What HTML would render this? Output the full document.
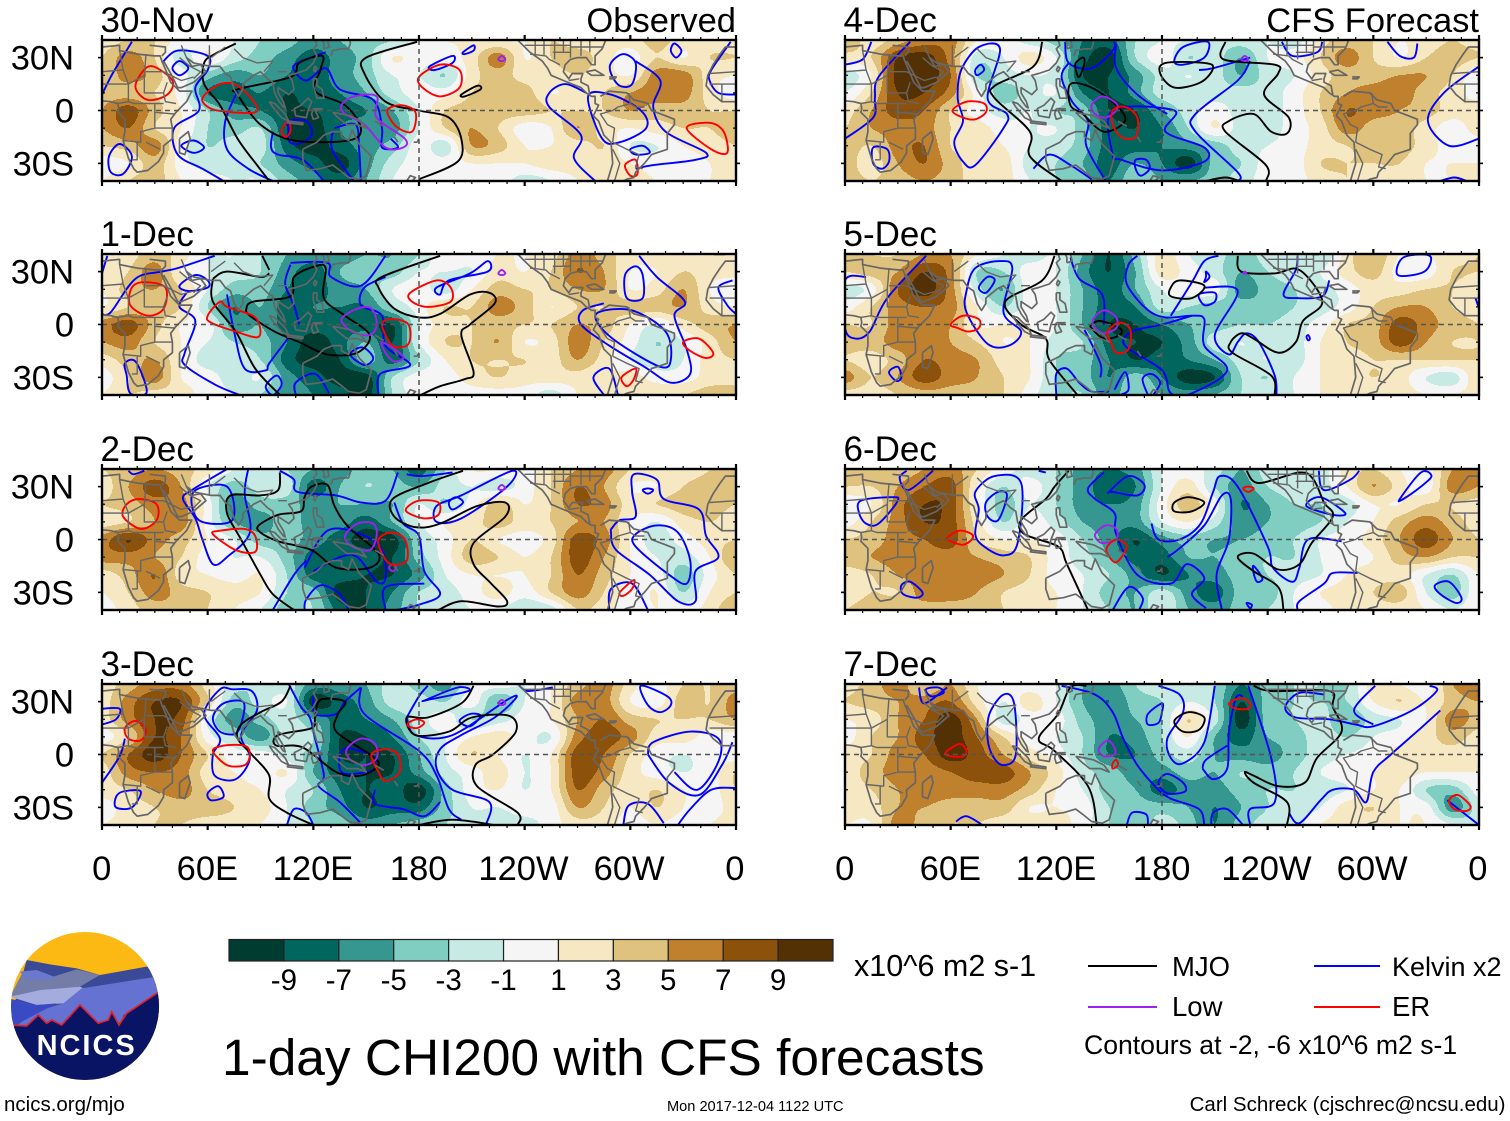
<!DOCTYPE html>
<html lang="en">
<head>
<meta charset="utf-8">
<title>1-day CHI200 with CFS forecasts</title>
<style>
html,body{margin:0;padding:0;background:#fff;}
svg{display:block;font-family:"Liberation Sans",sans-serif;}
</style>
</head>
<body>
<svg id="chart" xmlns="http://www.w3.org/2000/svg" width="1510" height="1121" viewBox="0 0 1510 1121">
<rect x="0" y="0" width="1510" height="1121" fill="#ffffff"/>
<g id="panels"></g>
<g id="colorbar"></g>
<text x="854" y="976" font-size="30.5">x10^6 m2 s-1</text>
<text x="222" y="1075" font-size="51.4">1-day CHI200 with CFS forecasts</text>
<g>
<line x1="1088" x2="1157" y1="966" y2="966" stroke="#000" stroke-width="2"/>
<text x="1172" y="976" font-size="27.5">MJO</text>
<line x1="1314" x2="1380" y1="966" y2="966" stroke="#0000ff" stroke-width="2"/>
<text x="1392" y="976" font-size="27">Kelvin x2</text>
<line x1="1088" x2="1157" y1="1007" y2="1007" stroke="#a020f0" stroke-width="2"/>
<text x="1172" y="1016" font-size="27.5">Low</text>
<line x1="1314" x2="1380" y1="1007" y2="1007" stroke="#ff0000" stroke-width="2"/>
<text x="1392" y="1016" font-size="27.5">ER</text>
<text x="1084" y="1054" font-size="26.6">Contours at -2, -6 x10^6 m2 s-1</text>
</g>
<text x="4" y="1111" font-size="20.5">ncics.org/mjo</text>
<text x="667" y="1111" font-size="14.6">Mon 2017-12-04 1122 UTC</text>
<text x="1505.5" y="1111" font-size="20.5" text-anchor="end">Carl Schreck (cjschrec@ncsu.edu)</text>
<g transform="translate(0,925) scale(0.33333)">
<clipPath id="logoClip"><circle cx="255" cy="243" r="222"/></clipPath>
<g clip-path="url(#logoClip)">
<rect x="0" y="0" width="520" height="500" fill="#fdb913"/>
<polygon points="80,105 150,118 230,130 300,150 440,125 490,130 490,320 20,320" fill="#3b4a96"/>
<polygon points="30,215 70,138 150,158 230,133 300,150 240,185 120,195" fill="#747ca8"/>
<polygon points="60,140 110,135 170,158 120,165 75,160" fill="#6b78d0"/>
<polygon points="30,215 120,195 240,185 262,195 190,235 110,240" fill="#a3acdc"/>
<polygon points="245,190 470,155 490,210 370,270 360,310 40,310 100,262 190,235" fill="#6672d2"/>
<polygon points="25,220 110,240 170,235 50,298 25,295" fill="#3a4ac4"/>
<polygon points="30,300 80,303 115,270 140,295 155,285 185,300 240,240 295,295 325,285 335,260 357,300 380,265 470,205 500,205 500,480 20,480" fill="#0a1464"/>
<polyline points="30,300 80,303 115,270 140,295 155,285 185,300 240,240 295,295 325,285 335,260 357,300 380,265 470,205 500,200" fill="none" stroke="#e0202a" stroke-width="5"/>
<text x="260" y="390" font-size="87" font-weight="bold" fill="#ffffff" text-anchor="middle" letter-spacing="6">NCICS</text>
</g>
</g>
</svg>
<script>
/* ---------- shared axis data ---------- */
const gridLons = [0,15,30,45,60,75,90,105,120,135,150,165,180,195,210,225,240,255,270,285,300,315,330,345,360];
const gridLats = [40,30,20,10,0,-10,-20,-30,-40];
const lonTicks = [0,60,120,180,240,300,360];
const lonTickLabels = ['0','60E','120E','180','120W','60W','0'];
const latTicks = [30,0,-30];
const latTickLabels = ['30N','0','30S'];
const bandEdges = [-9,-7,-5,-3,-1,1,3,5,7,9];
const bandColors = ['#003c30','#01665e','#35978f','#80cdc1','#c7eae5','#f5f5f5','#f6e8c3','#dfc27d','#bf812d','#8c510a','#543005'];
const panelDates = ['30-Nov','1-Dec','2-Dec','3-Dec','4-Dec','5-Dec','6-Dec','7-Dec'];
const loop = pts => Object.assign(pts,{closed:true});

/* ---------- filled CHI200 anomaly grids (rows 40N..40S, cols 0..360) ---------- */
const fill30Nov = [
[2,3,3,0,0,-1,-3,-4,-6,-5,-4,-3,0,1,1,1,1,3,2,2,2,4,2,2,2],
[3,6,3,-2,1,-2,-4,-6,-8,-6,-4,1,0,0,2,6,1,3,4,2,0,3,1,3,3],
[3,6,4,0,-4,-6,-5,-7,-8,-6,-4,-1,-1,-3,2,4,2,2,3,2,1,6,6,2,1],
[4,4,3,0,-7,-8,-7,-9,-8,-7,-5,-2,0,0,3,4,4,1,2,3,5,6,6,2,0],
[5,8,4,1,-3,-6,-7,-9,-9,-8,-7,-5,-1,3,4,4,4,3,3,3,5,4,4,3,3],
[5,7,3,1,-3,-4,-3,-9,-10,-7,-6,-6,-1,3,5,3,0,1,5,2,1,2,3,3,4],
[3,4,6,0,-3,-2,-2,-8,-10,-8,-6,-4,0,-2,5,4,1,1,2,3,-1,-1,1,2,3],
[0,1,4,0,-2,-2,-3,-6,-8,-10,-6,-2,0,0,1,1,1,2,2,2,1,0,0,1,2],
[1,3,4,1,0,-1,-1,-4,-6,-8,-5,-1,0,0,-1,0,-2,-1,1,2,2,1,1,1,2]];
const fill1Dec = [
[1,2,4,2,-1,-1,-3,-5,-6,-6,-5,-5,-3,1,0,1,1,2,6,4,2,2,2,3,3],
[1,3,6,1,-1,-2,-3,-6,-8,-5,-4,-4,-1,-1,-1,2,1,3,7,5,1,1,3,2,2],
[1,4,5,3,-1,-4,-4,-7,-8,-6,-5,-1,0,-2,1,4,3,3,5,5,1,2,5,1,-1],
[1,3,4,3,-3,-7,-5,-8,-7,-7,-7,-3,0,3,3,6,4,1,3,3,4,4,5,2,1],
[6,8,4,1,0,-6,-5,-8,-8,-8,-8,-9,-1,2,3,4,3,3,5,4,1,-1,2,4,5],
[5,6,3,1,-1,-3,-4,-7,-10,-8,-5,-9,-1,3,3,5,1,2,6,3,0,-3,-1,2,5],
[2,4,5,1,-2,-2,-3,-8,-10,-9,-4,-8,-3,1,3,3,3,2,5,2,-1,-2,-1,2,3],
[0,3,6,1,0,-2,-1,-6,-8,-10,-10,-3,0,0,2,3,2,2,2,1,2,0,0,2,3],
[1,3,2,2,0,-1,-3,-6,-7,-8,-10,-3,0,0,0,0,0,-2,1,2,3,3,3,4,3]];
const fill2Dec = [
[3,4,5,4,2,-1,-2,-3,-5,-6,-4,-5,-8,-3,1,1,0,3,5,6,3,2,2,3,5],
[2,5,8,5,-1,-4,-2,-2,-8,-5,-3,-4,-5,-2,-1,-2,0,3,7,5,1,1,3,4,4],
[3,4,6,6,0,-6,-4,-4,-6,-5,-5,-5,-1,-3,0,4,1,3,7,6,2,3,4,4,3],
[2,3,5,6,0,-5,-6,-4,-6,-6,-8,-5,-1,1,2,4,2,3,5,5,1,-1,2,3,2],
[6,9,6,4,1,-1,-4,-4,-6,-8,-10,-10,-3,0,3,1,0,2,8,6,1,-2,0,2,3],
[6,6,5,3,0,-1,-1,-4,-8,-8,-8,-9,-4,0,4,3,1,3,8,5,1,-1,-2,1,5],
[2,4,7,2,1,0,1,-3,-8,-8,-9,-9,-6,-1,1,1,1,3,7,4,1,0,-4,0,3],
[1,3,6,4,3,2,1,-3,-4,-10,-9,-7,-3,-2,0,2,0,3,6,3,0,1,-3,1,3],
[0,2,4,4,3,1,-1,-4,-3,-8,-9,-6,-3,-2,-1,-1,-3,-2,3,2,0,1,0,2,5]];
const fill3Dec = [
[2,4,6,6,2,-2,-3,-2,-6,-6,-5,-2,-4,-6,-1,0,-1,1,4,6,2,0,3,3,4],
[2,6,9,9,3,-4,-2,-1,-10,-8,-6,-2,-2,-3,0,-5,-1,1,6,6,1,0,4,3,6],
[2,6,9,8,-1,-6,-4,-2,-5,-8,-7,-5,-2,0,-3,-2,0,1,5,7,4,3,3,3,5],
[0,3,9,7,0,-3,-6,-2,-3,-9,-9,-7,-3,-1,1,2,0,-1,6,8,6,2,2,0,0],
[3,7,10,7,3,0,0,-2,-4,-9,-9,-9,-5,-1,3,1,-1,1,8,7,3,0,-1,0,0],
[2,6,7,6,2,1,0,1,-5,-8,-9,-9,-6,-2,0,2,-1,1,8,6,2,0,-1,0,3],
[2,3,5,6,3,2,1,-1,-3,-7,-9,-8,-10,-4,0,1,-1,1,7,4,2,3,1,0,3],
[0,2,3,4,4,3,2,-1,-4,-6,-9,-8,-8,-4,-1,-1,0,0,5,3,1,3,1,0,2],
[1,2,3,3,2,2,1,-1,-3,-4,-6,-5,-4,-3,-2,-2,-2,0,2,2,0,1,0,1,2]];
const fill4Dec = [
[5,2,4,6,6,1,0,-2,-4,-7,-8,-3,-1,-1,-2,-2,-1,-2,2,4,3,1,2,3,2],
[2,3,9,10,6,-2,-1,2,-1,-8,-10,-3,0,-3,-2,-5,-1,0,3,6,3,1,3,4,3],
[-2,1,10,10,7,-3,-2,-1,-2,-9,-9,-6,-2,-1,-2,-5,-2,-1,2,4,4,5,5,3,-1],
[-1,3,9,9,6,0,-4,-2,-1,-7,-9,-6,-2,-2,-2,-2,-2,0,3,5,6,6,4,2,0],
[2,5,8,7,3,0,-2,-1,-3,-4,-9,-9,-5,-2,0,-2,-2,0,3,7,6,5,4,2,2],
[3,5,6,6,3,2,0,-1,-1,-4,-8,-9,-7,-3,1,-2,-2,0,2,6,4,4,2,0,2],
[4,3,6,7,3,2,1,-1,-2,-4,-8,-8,-7,-6,-4,-2,-1,0,2,3,4,4,2,0,0],
[4,2,5,7,4,2,2,-2,-3,-5,-8,-5,-7,-10,-4,-3,0,0,3,3,3,3,1,1,1],
[4,3,4,5,4,2,2,-1,-3,-4,-7,-3,-5,-5,-4,-2,0,0,2,3,2,2,1,1,1]];
const fill5Dec = [
[4,3,3,5,5,1,-1,-2,-1,-5,-9,-4,2,-1,-2,-4,-2,-2,-3,2,5,1,1,2,3],
[3,4,5,9,6,-3,-3,0,-1,-6,-9,-5,2,0,-2,-5,-3,-2,-1,2,4,0,0,3,3],
[-2,0,7,10,6,-2,-5,0,-1,-5,-8,-5,-1,0,0,-6,-4,-3,-2,0,2,2,3,3,1],
[0,3,6,7,6,1,-3,0,-1,-5,-8,-7,-2,-3,-4,-4,-4,-3,-2,0,3,5,5,3,2],
[3,3,6,6,5,1,1,1,-1,-5,-9,-9,-7,-5,-4,-3,-3,-2,0,3,4,8,6,4,3],
[4,4,6,6,5,3,1,1,-2,-3,-8,-9,-9,-6,-2,-1,-2,-2,1,3,4,8,5,3,3],
[3,2,4,7,6,5,2,1,-3,-4,-7,-9,-8,-7,-5,-2,-1,-2,1,2,3,3,3,3,3],
[6,3,5,8,6,5,3,1,-3,-4,-7,-4,-7,-10,-9,-3,-3,-1,1,2,3,2,-1,-2,3],
[2,2,3,4,4,4,3,0,-3,-3,-6,-3,-5,-6,-5,-3,-1,-1,1,2,2,2,1,1,2]];
const fill6Dec = [
[3,5,4,5,6,3,0,-2,-3,-6,-7,-6,-1,0,-2,-5,-2,-2,-2,2,3,1,0,5,5],
[3,3,5,7,8,1,-3,0,-3,-6,-8,-7,-1,2,-3,-6,-3,-2,-2,1,5,2,0,6,5],
[-1,1,6,9,8,1,-4,-1,-3,-6,-7,-6,0,4,0,-7,-5,-3,-3,-2,1,1,3,3,2],
[0,3,6,9,8,2,-3,0,-2,-5,-6,-6,-1,1,-2,-6,-5,-4,-3,-1,1,4,6,4,2],
[3,4,6,7,8,3,1,1,0,-3,-6,-9,-6,-4,-5,-5,-4,-3,-1,0,2,5,8,5,3],
[4,5,6,6,6,5,4,3,0,-2,-5,-8,-8,-5,-5,-4,-3,-3,-1,0,1,4,5,3,3],
[2,3,5,6,6,6,5,3,0,-1,-3,-6,-9,-7,-6,-4,-3,-2,-1,1,2,2,-1,-3,1],
[2,3,3,6,6,5,3,2,1,-1,-4,-5,-2,-6,-8,-4,-4,-1,1,2,3,4,-1,-4,1],
[3,4,5,4,4,4,3,2,1,-1,-3,-5,-1,-5,-6,-4,-3,-1,0,2,2,2,1,-1,1]];
const fill7Dec = [
[2,4,6,3,5,1,0,0,-1,-5,-6,-3,-2,-1,-3,-7,-4,-3,-3,-3,2,1,0,5,7],
[3,4,5,6,7,2,-1,2,-1,-5,-7,-4,-3,-1,-3,-9,-4,-3,-3,-3,1,3,1,4,5],
[1,2,5,7,10,5,-2,0,0,-4,-6,-5,-3,3,-2,-10,-4,-3,-2,-5,-2,-1,1,6,4],
[0,3,5,8,10,7,3,0,-1,-3,-7,-6,-3,1,-5,-8,-5,-4,-2,-3,-1,0,2,4,2],
[2,3,6,7,10,8,5,2,0,-3,-7,-7,-4,-2,-5,-6,-6,-4,-2,-1,0,2,2,2,1],
[2,4,6,6,7,8,8,5,2,-2,-4,-6,-6,-4,-5,-3,-4,-3,-1,0,1,2,1,1,1],
[2,3,5,6,6,6,6,4,1,-1,-4,-5,-8,-6,-6,-4,-3,-3,-2,-1,1,1,-3,-4,0],
[2,2,5,5,4,4,4,1,1,0,-3,-4,-4,-5,-7,-5,-3,-2,-1,2,3,1,0,-6,-2],
[1,1,6,4,3,3,2,2,2,0,-3,-5,-2,-4,-7,-4,-2,-2,1,2,2,1,1,-1,-2]];

/* ---------- contour series, [lon,lat] ---------- */
const mjo30Nov = [
[[76,38],[64,32],[58,27],[58,15],[67,3],[77,-16],[88,-31],[95,-40]],
loop([[77,12],[107,19],[112,27],[125,31],[124,23],[121,11],[138,3],[147,-10],[140,-17],[109,-17],[90,-8],[77,9]]),
[[179,39],[150,30],[149,21],[161,5],[180,0],[197,-4],[204,-16],[202,-29],[180,-39]],
loop([[204,9],[213,14],[215,12],[206,8]])];
const kelvin30Nov = [
[[17,39],[6,21],[0,9]],
[[34,27],[43,34],[60,31],[60,23],[53,13],[55,0],[41,-10],[43,-25],[57,-33],[69,-40]],
loop([[44,28],[49,24],[44,20],[40,24]]),
[[77,11],[70,-6],[71,-22],[83,-33],[97,-40]],
[[127,33],[111,27],[109,23],[116,17],[127,24],[135,12],[154,6],[159,-10],[159,-21],[168,-21],[164,-16]],
[[97,-12],[96,-21],[100,-25],[114,-28],[126,-40]],
loop([[106,-6],[116,-6],[119,-14],[111,-19],[106,-17],[106,-10]]),
[[132,-10],[144,-8],[146,-22],[147,-40]],
[[131,-12],[131,-23],[143,-40]],
loop([[45,-20],[52,-17],[58,-21],[52,-24]]),
loop([[4,-26],[10,-19],[17,-26],[12,-36],[5,-35]]),
loop([[186,25],[199,31],[199,27],[189,23]]),
loop([[205,33],[211,37],[211,34],[206,32]]),
[[280,-40],[268,-27],[272,-14],[254,2],[254,10],[263,15],[275,10]],
loop([[276,8],[284,-16],[294,-18],[309,-10],[306,0],[289,9]]),
loop([[289,27],[296,32],[303,27],[301,15],[294,14],[289,21]]),
[[303,28],[317,17],[313,2],[320,-12],[343,-24],[337,-28],[313,-31],[303,-33]],
loop([[325,38],[329,34],[326,30],[323,34]]),
loop([[300,-22],[307,-20],[311,-24],[303,-25]]),
[[357,39],[346,23],[345,17],[350,10],[360,9]]];
const er30Nov = [
loop([[29,25],[40,17],[37,9],[26,6],[19,13],[23,22]]),
loop([[57,7],[67,15],[77,14],[87,4],[87,-1],[74,-1],[62,1]]),
loop([[180,19],[192,26],[203,23],[203,13],[192,8],[182,13]]),
loop([[162,0],[170,3],[178,-1],[176,-12],[167,-9]]),
loop([[332,-10],[345,-7],[353,-12],[355,-24],[346,-22]]),
loop([[297,-31],[303,-28],[304,-36],[300,-37]]),
loop([[102,-11],[106,-6],[107,-12],[104,-15]])];
const low30Nov = [
loop([[136,3],[143,8],[156,8],[156,-4],[172,-16],[171,-21],[161,-21],[149,-8],[138,-2]]),
loop([[227,31],[229,29],[227,28],[225,29]])];

const mjo1Dec = [
[[63,26],[71,30],[90,27],[95,29]],
[[63,26],[63,13],[76,-4],[87,-25],[101,-40]],
[[91,39],[95,31]],
loop([[82,9],[86,13],[107,16],[109,27],[121,33],[127,32],[126,15],[138,5],[152,-6],[145,-16],[128,-17],[112,-10],[98,-4],[84,5]]),
[[192,39],[159,27],[157,21],[166,9],[180,4],[192,6],[209,17],[220,18],[223,12],[209,0],[204,-6],[211,-27],[206,-31],[192,-35],[181,-40]]];
const kelvin1Dec = [
[[3,39],[0,29]],
[[0,6],[5,7],[19,26],[34,30],[43,32],[64,39]],
loop([[60,25],[53,28],[44,22],[49,19],[60,21]]),
[[48,18],[44,10],[53,2],[47,-16],[47,-23],[64,-34],[78,-40]],
[[71,17],[75,-4],[81,-25],[93,-26],[95,-22],[107,-6]],
[[107,34],[104,23],[109,11],[112,0]],
[[107,35],[128,35],[130,27],[147,22],[161,39]],
[[161,27],[149,21],[147,11],[159,5],[161,-12],[175,-23],[158,-28],[157,-40]],
loop([[93,-35],[99,-29],[102,-34],[97,-40]]),
[[110,-40],[110,-33],[121,-28],[129,-39]],
loop([[141,-17],[148,-13],[154,-19],[149,-23]]),
loop([[190,21],[209,29],[219,36],[219,30],[197,25],[192,17]]),
loop([[282,7],[301,8],[320,-4],[323,-20],[317,-24],[294,-11],[282,0]]),
[[305,39],[315,27],[331,13],[325,5],[332,-14],[334,-28],[323,-33],[308,-24],[288,-12],[272,0],[273,8],[285,12]],
loop([[297,28],[303,33],[307,28],[307,15],[298,15]]),
[[285,-40],[279,-30],[288,-25],[293,-40]],
[[358,25],[350,21],[355,11],[360,6]],
loop([[13,-22],[19,-21],[25,-35],[24,-40],[16,-39],[14,-29]])];
const er1Dec = [
loop([[24,24],[36,21],[35,9],[26,5],[16,11],[17,21]]),
loop([[60,5],[67,13],[71,10],[87,4],[89,-7],[76,-4],[62,1]]),
loop([[175,18],[190,25],[198,21],[198,13],[185,10],[176,13]]),
loop([[159,0],[165,3],[174,0],[174,-11],[165,-12]]),
loop([[330,-10],[339,-8],[347,-16],[343,-19],[334,-15]]),
loop([[295,-30],[303,-25],[302,-31],[298,-35]])];
const low1Dec = [
loop([[136,3],[145,9],[153,9],[156,0],[152,-6],[142,-4]]),
loop([[159,-10],[171,-18],[166,-21],[161,-16]]),
loop([[227,31],[229,29],[227,28],[225,29]])];

const mjo2Dec = [
[[101,38],[100,28],[90,25],[73,25],[71,15],[79,0],[90,-20],[97,-31],[109,-40]],
loop([[89,8],[100,14],[113,16],[115,24],[119,30],[128,31],[132,19],[140,7],[157,-8],[152,-16],[133,-16],[119,-6],[100,-1],[90,4]]),
[[205,39],[185,32],[165,23],[166,13],[178,7],[192,9],[213,19],[229,21],[229,13],[211,-2],[211,-14],[221,-25],[230,-35],[225,-38],[204,-35],[191,-40]]];
const kelvin2Dec = [
[[15,39],[18,37],[24,39]],
[[71,40],[51,28],[46,23],[53,12],[57,0],[63,-14],[71,-10],[84,4],[81,26],[83,40]],
loop([[52,27],[71,30],[74,11],[55,11]]),
[[101,39],[109,34],[111,27],[133,25],[147,21],[161,22],[168,38]],
[[199,38],[182,36],[173,37]],
loop([[233,39],[204,25],[190,19],[190,10],[204,12],[230,30]]),
loop([[197,21],[201,24],[205,21],[199,17]]),
[[166,21],[171,9],[180,2],[183,-18],[192,-31],[180,-37],[167,-40]],
[[115,-16],[128,5],[147,3],[159,-6],[161,-22],[156,-24],[145,-10],[135,-10],[120,-18]],
[[97,-40],[109,-20],[116,-12]],
[[115,-40],[116,-34],[124,-26],[135,-31],[140,-40]],
[[161,-40],[161,-27],[183,-25]],
loop([[290,7],[294,11],[303,13],[301,27],[302,37],[315,34],[319,23],[339,17],[343,2],[350,-10],[337,-18],[337,-35],[327,-35],[311,-20],[292,-6],[289,4]]),
loop([[303,3],[315,8],[327,4],[334,-12],[332,-25],[322,-20],[303,-4]]),
loop([[310,29],[313,28],[310,26],[307,28]]),
[[288,-40],[289,-28],[301,-25],[310,-40]]];
const er2Dec = [
loop([[21,23],[31,20],[31,11],[22,6],[12,13],[14,20]]),
loop([[63,3],[67,5],[81,6],[87,2],[87,-7],[76,-6]]),
loop([[173,18],[180,22],[191,21],[191,14],[183,12],[174,15]]),
loop([[157,0],[164,4],[172,0],[173,-12],[164,-14],[159,-8]]),
loop([[294,-30],[302,-23],[301,-28],[296,-32]])];
const low2Dec = [
loop([[138,2],[145,9],[154,9],[156,2],[152,-6],[142,-4]]),
loop([[163,-16],[165,-14],[167,-16],[165,-18]]),
loop([[227,31],[229,29],[227,28],[225,29]])];

const mjo3Dec = [
[[107,39],[102,30],[90,24],[79,17],[77,9],[85,0],[95,-12],[95,-25],[105,-33],[120,-40]],
loop([[99,5],[100,11],[119,15],[121,21],[124,31],[138,30],[134,23],[133,13],[152,0],[157,-6],[147,-12],[133,-10],[114,4]]),
[[211,39],[204,29],[185,21],[173,21],[178,11],[197,13],[210,21],[231,22],[235,13],[222,0],[212,-6],[213,-18],[236,-33],[236,-40]],
[[180,-40],[199,-37],[223,-40]]];
const kelvin3Dec = [
[[0,26],[10,26],[8,20],[0,17]],
[[0,-16],[10,-1],[13,9]],
loop([[67,37],[58,23],[67,9],[63,0],[64,-12],[76,-14],[84,-2],[79,11],[88,25],[85,36],[74,37]]),
loop([[63,21],[69,29],[80,30],[80,21],[76,12],[67,13]]),
loop([[60,-22],[66,-18],[69,-24],[62,-26]]),
loop([[8,-24],[12,-21],[22,-21],[17,-30],[8,-30]]),
[[106,40],[113,27],[118,21],[121,9],[126,-12],[123,-18],[135,-27],[147,-39]],
[[120,33],[121,23],[133,23],[138,30],[147,38]],
[[147,38],[149,23],[180,2],[190,-12],[197,-31],[204,-37]],
loop([[136,-10],[137,3],[152,0],[157,-6],[150,-10]]),
[[155,-20],[155,-28],[171,-31],[183,-35],[192,-27]],
[[173,21],[180,33],[185,39]],
loop([[184,31],[202,38],[208,36],[185,31]]),
[[173,21],[178,11],[199,11],[230,31],[235,32],[223,21],[204,11],[192,3],[190,-8],[199,-20],[220,-27],[218,-40]],
loop([[203,19],[209,23],[215,22],[209,16]]),
[[105,-40],[109,-31],[116,-33],[120,-40]],
loop([[306,39],[321,33],[323,28],[317,24],[310,28]]),
[[237,39],[242,36],[256,38]],
[[310,0],[313,7],[334,13],[350,9],[350,-4],[338,-20],[325,-10]],
[[310,0],[322,-16],[339,-23],[352,-6],[358,7]],
[[296,-40],[299,-29],[310,-28],[319,-39]],
[[327,-40],[334,-31],[346,-20],[360,-19]]];
const er3Dec = [
loop([[13,15],[19,19],[25,14],[22,8],[15,9]]),
loop([[63,2],[69,5],[81,5],[84,0],[81,-6],[71,-6]]),
loop([[174,18],[179,20],[183,18],[179,15],[174,16]]),
loop([[153,0],[161,3],[168,0],[169,-10],[161,-15],[157,-10]])];
const low3Dec = [
loop([[139,3],[147,9],[155,6],[156,-2],[149,-6],[141,-3]]),
loop([[227,31],[229,29],[227,28],[225,29]])];

const mjo4Dec = [
[[112,39],[107,25],[85,14],[85,7],[105,-12],[105,-26],[123,-40]],
loop([[131,27],[135,30],[136,27],[133,19],[131,23]]),
loop([[128,15],[140,13],[154,3],[159,-6],[147,-12],[135,-2],[128,3]]),
loop([[179,21],[182,27],[204,27],[209,24],[202,16],[187,13]]),
[[216,39],[215,29],[244,26],[246,21],[238,9],[252,-4],[251,-13],[242,-12],[232,-2],[218,-6],[216,-12],[239,-31],[239,-40]],
[[205,-40],[216,-38],[224,-40]]];
const kelvin4Dec = [
[[0,26],[10,29],[15,39]],
[[37,39],[19,19],[17,7],[16,-4],[0,-16]],
loop([[66,23],[76,36],[88,35],[81,7],[92,-2],[90,-10],[74,-31],[67,-29],[62,-18],[67,-6],[64,7]]),
loop([[74,23],[77,26],[79,23],[75,20]]),
loop([[16,-21],[24,-22],[25,-29],[21,-33],[16,-30]]),
[[125,39],[127,27],[140,24],[152,34],[153,39]],
[[127,27],[123,19],[129,5],[138,-6],[137,-20],[148,-40]],
loop([[152,0],[187,0],[182,-12],[204,-21],[204,-29],[180,-34],[157,-28],[152,-25]]),
loop([[165,-28],[171,-28],[173,-33],[168,-37],[165,-33]]),
[[107,-33],[116,-25],[128,-31],[140,-39]],
[[154,38],[154,24],[166,9],[183,-2]],
loop([[187,28],[192,36],[206,39],[204,30],[192,26]]),
[[230,28],[223,17],[199,-2],[199,-12],[223,-35],[223,-40]],
[[201,23],[209,24],[230,30]],
[[248,39],[254,31],[268,33],[271,39]],
[[308,39],[315,31],[323,30],[325,38]],
[[360,25],[340,10],[331,-6],[343,-20],[360,-16]],
[[338,-40],[346,-38],[353,-40]]];
const er4Dec = [
loop([[61,0],[69,5],[79,4],[80,-1],[74,-5],[67,-4]]),
loop([[152,0],[159,2],[166,-4],[165,-15],[157,-15],[152,-8]])];
const low4Dec = [
loop([[140,3],[146,8],[154,4],[154,0],[148,-4],[142,-2]]),
loop([[227,31],[229,29],[227,28],[225,29]])];

const mjo5Dec = [
[[119,39],[112,25],[91,13],[100,0],[114,-8],[116,-20],[132,-40]],
loop([[185,21],[190,25],[204,22],[197,15],[185,16]]),
loop([[140,0],[145,2],[156,-2],[156,-6],[147,-8],[140,-2]]),
[[223,39],[225,30],[244,29],[258,31],[271,13],[260,2],[256,-10],[246,-16],[232,-8],[225,-5],[219,-10],[220,-16],[242,-29],[244,-40]]];
const kelvin5Dec = [
[[46,39],[24,15],[14,-4],[6,-8],[0,-2],[0,25],[12,27]],
loop([[74,32],[88,36],[95,32],[90,7],[100,-4],[93,-12],[81,-11],[69,7],[69,19]]),
loop([[76,21],[81,27],[85,25],[80,18]]),
loop([[25,-27],[30,-24],[32,-30],[29,-32]]),
[[128,38],[133,26],[146,17],[147,0]],
[[166,39],[161,34],[160,23],[171,9],[182,4],[197,5],[204,3],[204,-12],[217,-26],[197,-39],[185,-39],[180,-26],[159,-12],[163,-4],[180,0],[197,5]],
[[136,-3],[145,-22],[145,-30]],
[[153,-37],[159,-27],[161,-37],[156,-40]],
[[172,-40],[169,-31],[174,-28],[179,-33],[175,-40]],
[[120,-40],[120,-28],[126,-25],[133,-33],[140,-38],[150,-38]],
loop([[205,30],[207,27],[204,24],[205,27]]),
loop([[201,17],[210,18],[210,13],[204,11]]),
[[185,5],[197,24],[204,36],[212,39]],
[[204,21],[223,19],[210,-6],[218,-17],[223,-10],[228,-5],[235,-10],[244,-29],[245,-40]],
[[257,39],[256,31],[249,17],[257,15],[271,16],[275,25]],
loop([[314,28],[317,38],[332,39],[329,30]]),
loop([[262,-7],[263,-6],[264,-8],[263,-9]]),
[[358,15],[360,9]]];
const er5Dec = [
loop([[60,0],[67,5],[76,3],[76,-2],[70,-4],[64,-2]]),
loop([[149,-4],[156,1],[162,-3],[161,-14],[154,-16],[151,-10]])];
const low5Dec = [
loop([[141,3],[147,8],[154,4],[154,-2],[147,-5],[142,-2]]),
loop([[227,30],[228,29],[227,29],[226,29]])];

const mjo6Dec = [
[[127,39],[119,30],[114,23],[100,11],[102,3],[121,-4],[126,-14],[138,-40]],
loop([[187,21],[195,24],[204,21],[197,16],[187,16]]),
[[228,39],[235,32],[258,38],[266,34],[272,21],[277,13],[265,-2],[258,-14],[246,-17],[232,-8],[223,-10],[232,-18],[246,-27],[249,-40]]];
const kelvin6Dec = [
[[50,39],[36,28],[31,35],[35,39]],
loop([[9,22],[26,24],[30,22],[19,9],[12,9],[8,15]]),
loop([[32,-26],[37,-24],[44,-30],[41,-33],[33,-31]]),
loop([[74,27],[85,36],[100,32],[98,-2],[90,-9],[79,-4],[74,3],[76,17]]),
loop([[80,21],[87,27],[92,25],[87,11],[81,13]]),
[[110,39],[114,38]],
[[147,38],[138,29],[142,23],[153,15],[154,3],[166,-20],[185,-25],[194,-14],[204,-22],[197,-31],[205,-39]],
loop([[150,27],[161,36],[170,31],[166,25],[152,27]]),
[[152,-40],[161,-27],[169,-33],[167,-40]],
[[174,9],[178,0],[190,0],[202,9],[209,27],[213,36],[223,30],[240,-4],[243,-16],[254,-24],[258,-16],[263,0],[282,-1]],
[[214,-40],[211,-20],[218,0],[219,23],[214,25],[204,8],[190,-5],[183,-10]],
loop([[232,-15],[237,-22],[234,-24],[232,-19]]),
loop([[228,-36],[231,-37],[230,-39]]),
[[269,39],[272,28],[287,34],[292,39]],
loop([[262,19],[270,24],[284,15],[277,14]]),
[[257,-40],[258,-35],[272,-25],[277,-19],[291,-19]],
loop([[315,23],[327,38],[333,36],[327,30],[317,23]]),
loop([[335,-26],[343,-24],[350,-33],[347,-36],[338,-31]])];
const er6Dec = [
loop([[58,1],[65,5],[72,3],[72,0],[67,-3],[60,-1]]),
loop([[149,-4],[154,0],[160,-4],[154,-13],[149,-8]]),
loop([[226,29],[229,30],[232,29],[229,27]])];
const low6Dec = [
loop([[142,3],[148,8],[154,6],[154,0],[147,-2],[144,-1]])];

const mjo7Dec = [
[[137,39],[128,38],[121,23],[110,9],[119,2],[138,-18],[143,-40]],
loop([[187,19],[195,24],[204,21],[201,14],[192,13]]),
[[232,39],[242,36],[275,36],[277,27],[282,13],[268,-2],[261,-16],[246,-18],[232,-12],[227,-10],[232,-16],[251,-27],[251,-40]]];
const kelvin7Dec = [
[[42,38],[45,29],[58,38]],
loop([[46,37],[53,38],[56,35],[49,33]]),
loop([[82,23],[90,34],[96,29],[97,0],[90,-6],[84,-1],[81,9]]),
[[123,39],[142,34],[152,24],[158,9],[166,-6],[178,-20],[185,-25],[201,-31],[204,-40]],
loop([[172,23],[180,29],[180,24],[178,18],[172,17]]),
[[178,39],[190,34],[192,24],[183,9],[185,-2],[192,-5],[204,7],[210,39]],
[[203,-8],[209,-14],[217,-8],[218,13],[222,32],[226,33]],
[[203,-8],[205,-3],[217,5]],
[[229,39],[242,-2],[244,-27],[230,-31],[230,-40]],
loop([[178,-16],[183,-11],[192,-16],[193,-21],[183,-22]]),
[[63,-38],[69,-35],[78,-40]],
[[160,-40],[163,-33],[171,-34],[172,-40]],
[[208,-40],[209,-33],[217,-31],[226,-40]],
[[272,34],[258,35],[250,27],[256,21],[275,20],[290,17],[300,16],[322,25],[336,36],[332,39]],
[[300,17],[289,25],[301,39]],
[[252,-33],[258,-39],[270,-26],[277,-20],[289,-20],[296,-27],[300,-10],[310,0],[327,15],[338,25]],
[[342,-26],[360,-40]]];
const er7Dec = [
loop([[57,1],[65,6],[69,2],[67,-1],[60,-1]]),
loop([[152,-5],[154,-3],[155,-6],[152,-8]]),
loop([[218,29],[225,32],[230,29],[229,26],[222,26]]),
loop([[343,-26],[348,-23],[355,-29],[353,-32],[346,-31]])];
const low7Dec = [
loop([[144,3],[149,8],[153,4],[153,0],[147,-1]])];

const panelFills = [fill30Nov,fill1Dec,fill2Dec,fill3Dec,fill4Dec,fill5Dec,fill6Dec,fill7Dec];
const panelMjo = [mjo30Nov,mjo1Dec,mjo2Dec,mjo3Dec,mjo4Dec,mjo5Dec,mjo6Dec,mjo7Dec];
const panelKelvin = [kelvin30Nov,kelvin1Dec,kelvin2Dec,kelvin3Dec,kelvin4Dec,kelvin5Dec,kelvin6Dec,kelvin7Dec];
const panelEr = [er30Nov,er1Dec,er2Dec,er3Dec,er4Dec,er5Dec,er6Dec,er7Dec];
const panelLow = [low30Nov,low1Dec,low2Dec,low3Dec,low4Dec,low5Dec,low6Dec,low7Dec];

/* ---------- coastlines and borders, [lon,lat] ---------- */
const coastlines = [
[[0,5.5],[5,5],[9,4],[9.5,1],[9,-1],[13,-5],[13,-12],[12,-17],[15,-27],[18,-33],[20,-35],[26,-34],[32,-29],[35,-24],[35,-20],[40,-16],[40,-10],[39,-5],[42,-1],[48,5],[51,11],[44,11],[43,12],[39,16],[37,21],[34,28],[33,31],[30,31],[20,32],[10,34],[10,37],[0,36]],
[[35,28],[39,21],[43,13],[45,13],[52,16],[59,22],[56,26],[51,25],[48,30],[52,27],[57,26],[62,25],[67,25],[70,21],[73,19],[75,12],[77.5,8],[80,12],[80,15],[86,20],[90,22],[94,18],[97,16],[98,10],[100,6],[103,2],[104,1.5],[103,5],[100,10],[100,13],[103,11],[106,9],[109,12],[108,17],[106,20],[110,21],[116,23],[120,27],[122,31],[120,35],[122,37],[121,40]],
[[27,37],[36,36],[36,33],[34,31]],
[[126,35],[126,38],[125,40]],[[126,35],[129,36],[128,40]],
[[130,31],[131,34],[136,35],[140,35],[141,38],[141,40]],
[[120,23],[121,25],[122,24],[121,22],[120,23]],
[[120,18],[122,18],[122,14],[125,12],[126,7],[122,7],[120,14],[120,18]],
[[95,5],[98,4],[104,-2],[106,-6],[102,-4],[97,2],[95,5]],
[[105,-7],[114,-8],[114,-7],[106,-6],[105,-7]],
[[109,1],[113,3],[117,7],[119,5],[117,0],[116,-4],[110,-3],[109,1]],
[[120,1],[125,1],[121,0],[123,-4],[120,-5],[119,-2],[120,1]],
[[131,-1],[136,-2],[141,-3],[147,-6],[150,-10],[145,-8],[139,-8],[134,-4],[131,-1]],
[[114,-22],[122,-18],[126,-14],[131,-12],[136,-12],[136,-15],[140,-17],[142,-11],[146,-19],[153,-26],[150,-37],[146,-39],[140,-38],[135,-34],[131,-31],[124,-33],[116,-34],[114,-28],[114,-22]],
[[173,-40],[175,-37],[178,-38],[176,-40]],
[[44,-16],[49,-12],[50,-16],[47,-25],[44,-24],[44,-16]],
[[155,-6],[160,-9]],[[166,-15],[168,-18]],[[177,-18],[179,-18]],[[180,-16],[179,-18]],
[[236,40],[240,36],[243,33],[250,28],[253,24],[255,20],[262,17],[267,15],[272,13],[275,10],[278,8],[280,8],[280,4],[282,3],[279,-3],[282,-6],[285,-14],[289,-18],[290,-30],[287,-40]],
[[277,9],[276,14],[272,16],[272,18],[273,21],[267,21],[265,18],[262,22],[263,26],[266,29],[270,30],[275,30],[278,26],[280,26],[280,31],[284,35],[286,40]],
[[275,22],[280,23],[285,20],[278,20],[275,22]],[[288,19],[292,19],[291,18],[288,18]],
[[283,8],[288,11],[298,10],[302,6],[310,4],[312,0],[320,-3],[325,-5],[325,-8],[321,-13],[321,-22],[312,-25],[308,-30],[303,-35],[302,-38],[298,-39],[296,-40]],
[[360,5],[352,5],[347,9],[343,14],[344,20],[347,26],[351,32],[354,36],[360,36]]
];
const borders = [
[[0,15],[15,15],[24,20],[24,10],[35,10],[36,5],[42,4]],[[24,20],[25,32]],[[10,34],[12,23],[15,15],[15,5],[9,4]],
[[30,-1],[30,-10],[22,-12],[22,-18],[12,-17]],[[30,-10],[40,-10]],[[20,-18],[20,-28],[17,-28]],[[25,-18],[33,-22]],
[[35,4],[30,4],[18,4],[15,5]],[[30,-1],[41,-2]],[[30,4],[30,-1]],[[52,19],[45,17],[35,22]],[[44,30],[50,25],[56,22],[52,18]],
[[45,37],[48,30]],[[61,37],[61,25]],[[70,36],[62,30]],[[75,35],[80,30],[88,27],[97,28],[92,22]],[[100,22],[105,22]],
[[0,22],[12,23]],[[345,21],[360,22]],[[345,15],[360,15]],[[352,5],[352,15]],[[35,10],[37,16]],[[35,22],[25,22]],
[[290,-18],[298,-22],[305,-25],[303,-32],[307,-33]],[[290,-18],[291,-10],[287,-8],[283,-2],[290,0],[293,2],[300,4],[299,10]],[[300,4],[303,2],[308,2]],
[[290,-22],[294,-30],[291,-40]],
[[243,32],[252,31],[254,29],[260,26]],[[240,37],[266,37]],[[246,32],[246,40]],[[251,31],[251,40]],[[257,29],[257,40]],[[262,33],[262,40]],[[266,30],[266,40]],[[256,33],[266,33]],[[272,31],[272,40]],[[277,33],[277,40]],[[266,36],[284,36]],
[[265,17],[271,18]]
];

/* ---------- layout & scales ---------- */
const SVGNS = 'http://www.w3.org/2000/svg';
const panelLefts = [102,102,102,102,845,845,845,845];
const panelTops = [40,254,469,684,40,254,469,684];
const panelW = 634, panelH = 141;
const root = document.getElementById('panels');
const cbar = document.getElementById('colorbar');

function make(parent, tag, attrs, text){
  const el = document.createElementNS(SVGNS, tag);
  for (const k in attrs) el.setAttribute(k, attrs[k]);
  if (text !== undefined) el.textContent = text;
  parent.appendChild(el);
  return el;
}
function xScale(i, lon){ return panelLefts[i] + lon/360*panelW; }
function yScale(i, lat){ return panelTops[i] + (40-lat)/80*panelH; }
function bandOf(v){
  let k = 0;
  while (k < bandEdges.length && v >= bandEdges[k]) k++;
  return k;
}
function cubic(a,b,c,d,t){
  return b + 0.5*t*(c-a + t*(2*a-5*b+4*c-d + t*(3*(b-c)+d-a)));
}
function sampleField(grid, lon, lat){
  const fx = lon/15, fy = (40-lat)/10;
  const ix = Math.min(23, Math.floor(fx)), iy = Math.min(7, Math.floor(fy));
  const tx = fx-ix, ty = fy-iy;
  const col = [];
  for (let r=-1;r<=2;r++){
    const row = grid[Math.max(0,Math.min(8,iy+r))];
    const g = c => row[Math.max(0,Math.min(24,c))];
    col.push(cubic(g(ix-1),g(ix),g(ix+1),g(ix+2),tx));
  }
  return cubic(col[0],col[1],col[2],col[3],ty);
}
function smoothPath(i, pts){
  const P = pts.map(p => [xScale(i,p[0]), yScale(i,p[1])]);
  const n = P.length;
  const at = k => pts.closed ? P[(k+n)%n] : P[Math.max(0,Math.min(n-1,k))];
  let d = 'M'+P[0][0].toFixed(1)+' '+P[0][1].toFixed(1);
  const segs = pts.closed ? n : n-1;
  for (let k=0;k<segs;k++){
    const p0=at(k-1),p1=at(k),p2=at(k+1),p3=at(k+2);
    d += 'C'+(p1[0]+(p2[0]-p0[0])/6).toFixed(1)+' '+(p1[1]+(p2[1]-p0[1])/6).toFixed(1)+' '
        +(p2[0]-(p3[0]-p1[0])/6).toFixed(1)+' '+(p2[1]-(p3[1]-p1[1])/6).toFixed(1)+' '
        +p2[0].toFixed(1)+' '+p2[1].toFixed(1);
  }
  return d + (pts.closed ? 'Z' : '');
}
function linePath(i, pts){
  return pts.map((p,k)=>(k?'L':'M')+xScale(i,p[0]).toFixed(1)+' '+yScale(i,p[1]).toFixed(1)).join('');
}

panelDates.forEach((date,i)=>{
  const L = panelLefts[i], T = panelTops[i];
  const g = make(root,'g',{});
  
  

  const defs = make(g,'clipPath',{id:'clip'+i});
  make(defs,'rect',{x:L,y:T,width:panelW,height:panelH});

  /* filled heatmap bands */
  const fillG = make(g,'g',{'shape-rendering':'crispEdges','clip-path':'url(#clip'+i+')'});
  
  
  const stepX = 1, stepY = 1;
  for (let py=0; py<panelH; py+=stepY){
    const lat = 40-(py+stepY/2)/panelH*80;
    let start = 0, cur = -1;
    for (let px=0; px<=panelW; px+=stepX){
      const b = px<panelW ? bandOf(sampleField(panelFills[i], (px+stepX/2)/panelW*360, lat)) : -2;
      if (b !== cur){
        if (cur >= 0){
          const cell = make(fillG,'rect',{x:L+start,y:T+py,width:px-start,height:stepY,fill:bandColors[cur]});
          
          
        }
        start = px; cur = b;
      }
    }
  }

  /* contour series */
  const clipG = make(g,'g',{'clip-path':'url(#clip'+i+')',fill:'none'});
  
  
  const seriesList = [
    {name:'kelvin-contour', color:'#0000ff', data:panelKelvin[i]},
    {name:'mjo-contour', color:'#000000', data:panelMjo[i]},
    {name:'low-contour', color:'#a020f0', data:panelLow[i]},
    {name:'er-contour', color:'#ff0000', data:panelEr[i]}
  ];
  seriesList.forEach(s=>{
    s.data.forEach(c=>{
      const path = make(clipG,'path',{d:smoothPath(i,c),stroke:s.color,'stroke-width':1.9});
      
      
    });
  });

  /* coast and borders */
  const coastG = make(clipG,'g',{stroke:'#666666','stroke-width':1.7,'stroke-linejoin':'round'});
  
  
  make(coastG,'path',{d:coastlines.map(c=>linePath(i,c)).join('')});
  make(coastG,'path',{d:borders.map(c=>linePath(i,c)).join(''),'stroke-width':1.4});

  /* reference lines */
  const eq = make(g,'line',{x1:L,x2:L+panelW,y1:yScale(i,0),y2:yScale(i,0),stroke:'#555','stroke-width':1.5,'stroke-dasharray':'5 4'});
  
  
  const dl = make(g,'line',{x1:xScale(i,180),x2:xScale(i,180),y1:T,y2:T+panelH,stroke:'#555','stroke-width':1.5,'stroke-dasharray':'5 4'});
  
  

  /* ticks */
  const tickG = make(g,'g',{stroke:'#000','stroke-width':1.6});
  
  
  for (let lon=0; lon<=360; lon+=10){
    const major = lon%60===0;
    const len = major?5:3;
    make(tickG,'line',{x1:xScale(i,lon),x2:xScale(i,lon),y1:T+panelH,y2:T+panelH+len,'stroke-width':major?2.2:1.2});
    make(tickG,'line',{x1:xScale(i,lon),x2:xScale(i,lon),y1:T,y2:T-len,'stroke-width':major?2.2:1.2});
  }
  for (let lat=-30; lat<=30; lat+=10){
    const major = lat%30===0;
    const len = major?4:0;
    if (len){
      make(tickG,'line',{x1:L,x2:L-len,y1:yScale(i,lat),y2:yScale(i,lat)});
      make(tickG,'line',{x1:L+panelW,x2:L+panelW+len,y1:yScale(i,lat),y2:yScale(i,lat)});
    } else {
      make(tickG,'line',{x1:L,x2:L+3,y1:yScale(i,lat),y2:yScale(i,lat),'stroke-width':1.2});
      make(tickG,'line',{x1:L+panelW,x2:L+panelW-3,y1:yScale(i,lat),y2:yScale(i,lat),'stroke-width':1.2});
    }
  }

  /* frame */
  const frame = make(g,'rect',{x:L,y:T,width:panelW,height:panelH,fill:'none',stroke:'#000','stroke-width':2.4});
  
  

  /* titles */
  const title = make(g,'text',{x:L-1.5,y:T-8,'font-size':35},date);
  
  
  if (i===0 || i===4){
    const sub = make(g,'text',{x:L+panelW,y:T-8,'font-size':34.5,'text-anchor':'end'}, i===0?'Observed':'CFS Forecast');
    
    
  }

  /* latitude labels, left column only */
  if (i<4){
    latTicks.forEach((lat,k)=>{
      const t = make(g,'text',{x:74,y:yScale(i,lat)+12,'font-size':34.5,'text-anchor':'end'},latTickLabels[k]);
      
      
    });
  }
  /* longitude labels, bottom row only */
  if (i===3 || i===7){
    lonTicks.forEach((lon,k)=>{
      const t = make(g,'text',{x:xScale(i,lon)-(lon>180?1.2:0.3),y:880,'font-size':34.5,'text-anchor':'middle'},lonTickLabels[k]);
      
      
    });
  }
});

/* colorbar */
const cbLeft = 229, cbWidth = 604, cbTop = 939.5, cbHeight = 21.5;
const cbStep = cbWidth/bandColors.length;
bandColors.forEach((c,k)=>{
  const box = make(cbar,'rect',{x:cbLeft+k*cbStep,y:cbTop,width:cbStep,height:cbHeight,fill:c,stroke:'#222','stroke-width':1.2});
  
  
});
bandEdges.forEach((v,k)=>{
  const t = make(cbar,'text',{x:cbLeft+(k+1)*cbStep,y:990,'font-size':29.5,'text-anchor':'middle'},String(v));
  
  
});
</script>
</body>
</html>
